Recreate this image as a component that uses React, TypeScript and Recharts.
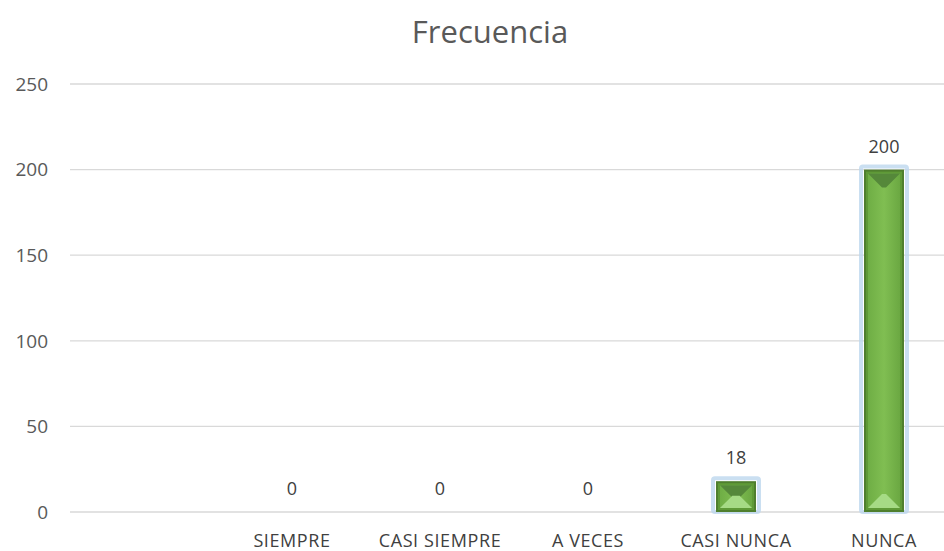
import React from "react";
import { BarChart, Bar, XAxis, YAxis, CartesianGrid, LabelList } from "recharts";

const categories = ["", "SIEMPRE", "CASI SIEMPRE", "A VECES", "CASI NUNCA", "NUNCA"];
const frecuencia: (number | null)[] = [null, 0, 0, 0, 18, 200];
const yTicks = [0, 50, 100, 150, 200, 250];

const data = categories.map((c, i) => ({ name: c, value: frecuencia[i] }));

const BevelBar = (props: any) => {
  const { x, y, width, height } = props;
  if (height == null || height <= 0.5) return null;
  const inset = 4;
  const bev = Math.min(14, height / 2.5);
  const ix = x + inset;
  const iw = width - inset * 2;
  return (
    <g>
      <rect x={x - 3} y={y - 3} width={width + 6} height={height + 3} fill="none" stroke="#BDD7EE" strokeWidth={4} opacity={0.8} rx={2} />
      <rect x={x} y={y} width={width} height={height} fill="#4F7F2E" />
      <rect x={x + 2} y={y + 2} width={width - 4} height={height - 4} fill="#5F9A37" />
      <rect x={ix} y={y + inset} width={iw} height={Math.max(0, height - inset * 2)} fill="url(#faceGrad)" />
      <polygon points={`${ix},${y + inset} ${ix + iw},${y + inset} ${ix + iw - bev},${y + inset + bev} ${ix + bev},${y + inset + bev}`} fill="#55883A" />
      <polygon points={`${ix},${y + height - inset} ${ix + iw},${y + height - inset} ${ix + iw - bev},${y + height - inset - bev} ${ix + bev},${y + height - inset - bev}`} fill="#A6DB85" />
    </g>
  );
};

export default function App() {
  return (
    <div style={{ position: "fixed", left: 0, top: 0, width: 944, height: 551, overflow: "hidden", background: "#fff" }}>
      <div style={{ position: "relative", width: 970, height: 551 }}>
        <div
          style={{
            position: "absolute",
            left: 0,
            top: 10,
            width: 980,
            textAlign: "center",
            fontFamily: "'Open Sans', sans-serif",
            fontSize: 31,
            color: "#595959",
          }}
        >
          Frecuencia
        </div>
        <BarChart width={970} height={551} data={data} margin={{ top: 84, right: 12, left: 8, bottom: 0 }}>
          <defs>
            <linearGradient id="faceGrad" x1="0" y1="0" x2="1" y2="0">
              <stop offset="0%" stopColor="#6FAE45" />
              <stop offset="50%" stopColor="#80BE52" />
              <stop offset="100%" stopColor="#6BA842" />
            </linearGradient>
          </defs>
          <CartesianGrid vertical={false} stroke="#D9D9D9" strokeWidth={1.3} />
          <XAxis
            dataKey="name"
            axisLine={false}
            tickLine={false}
            height={39}
            tickSize={0}
            tickMargin={22}
            tick={{ fill: "#404040", fontSize: 18, letterSpacing: 0.6, fontFamily: "'Open Sans', sans-serif" }}
            interval={0}
          />
          <YAxis
            domain={[0, 250]}
            ticks={yTicks}
            axisLine={false}
            tickLine={false}
            width={62}
            tickSize={0}
            tickMargin={22}
            tick={{ fill: "#595959", fontSize: 19, fontFamily: "'Open Sans', sans-serif" }}
          />
          <Bar dataKey="value" barSize={40} shape={<BevelBar />} isAnimationActive={false}>
            <LabelList dataKey="value" position="top" offset={17} fill="#404040" fontSize={18} fontFamily="'Open Sans', sans-serif" />
          </Bar>
        </BarChart>
      </div>
    </div>
  );
}
